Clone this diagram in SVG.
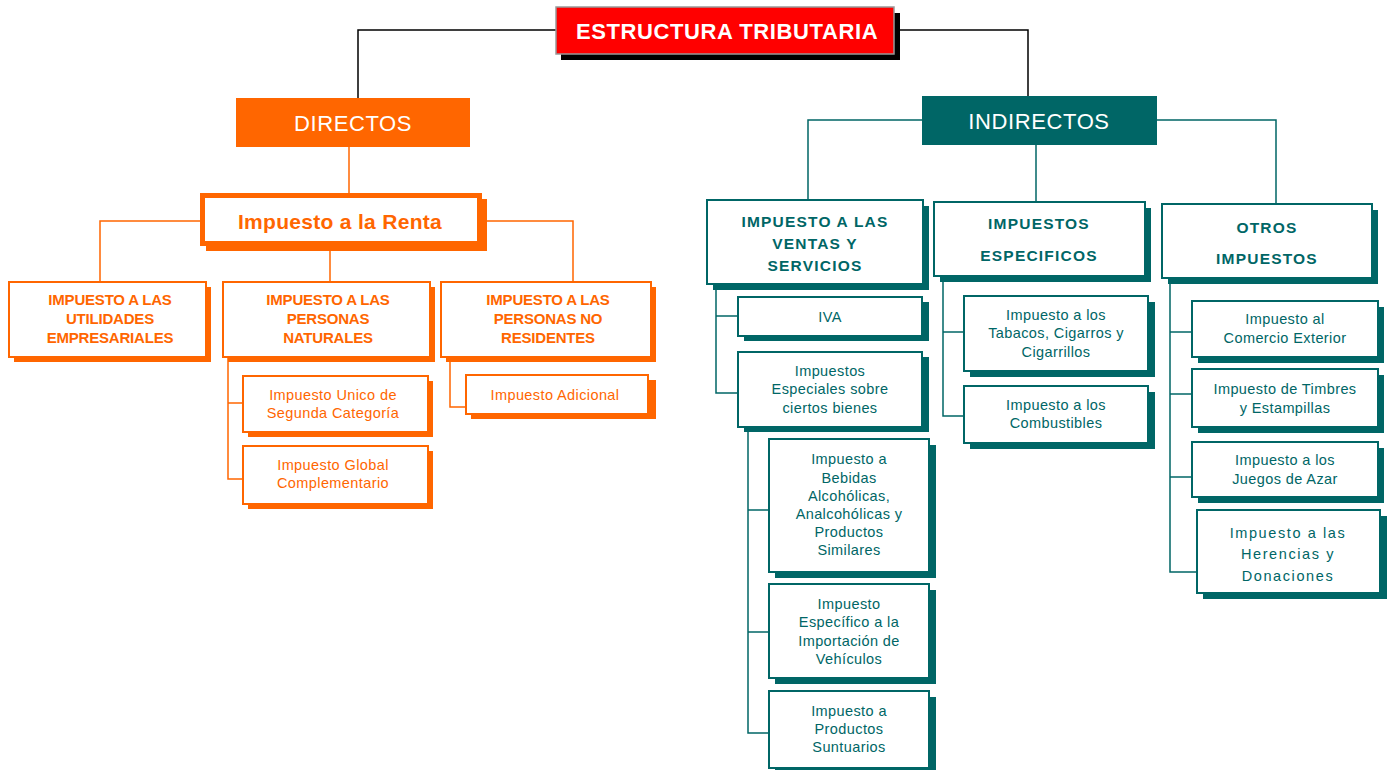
<svg xmlns="http://www.w3.org/2000/svg" width="1390" height="770" viewBox="0 0 1390 770">
  <style>
    text { font-family: "Liberation Sans", Arial, sans-serif; text-anchor: middle; }
    .wire-k { fill: none; stroke: #000; stroke-width: 1.5; }
    .wire-o { fill: none; stroke: #FF6600; stroke-width: 1.5; }
    .wire-t { fill: none; stroke: #006666; stroke-width: 1.5; }
    .sh-o { fill: #FF6600; }
    .sh-t { fill: #006666; }
    .box-o { fill: #fff; stroke: #FF6600; stroke-width: 2; }
    .box-t { fill: #fff; stroke: #006666; stroke-width: 2; }
    .hd-o { fill: #FF6600; font-size: 15px; font-weight: bold; letter-spacing: -0.2px; }
    .hd-t { fill: #006666; font-size: 15.5px; font-weight: bold; letter-spacing: 1.2px; }
    .tx-o { fill: #FF6600; font-size: 14.5px; letter-spacing: 0.4px; }
    .tx-t { fill: #006666; font-size: 14.5px; letter-spacing: 0.4px; }
    .tx-t.wide { letter-spacing: 1.6px; }
    .big { fill: #fff; font-size: 22px; letter-spacing: 0.6px; }
  </style>

  <!-- connectors -->
  <g id="connectors">
    <polyline class="wire-k" points="556,30 358,30 358,98"/>
    <polyline class="wire-k" points="894,30 1028,30 1028,97"/>
    <!-- directos branch -->
    <line class="wire-o" x1="349" y1="147" x2="349" y2="194"/>
    <polyline class="wire-o" points="201,221 100,221 100,283"/>
    <polyline class="wire-o" points="482,221 573,221 573,283"/>
    <line class="wire-o" x1="330" y1="246" x2="330" y2="283"/>
    <polyline class="wire-o" points="228,358 228,479 243,479"/>
    <line class="wire-o" x1="228" y1="403" x2="243" y2="403"/>
    <polyline class="wire-o" points="450,358 450,407 466,407"/>
    <!-- indirectos branch -->
    <polyline class="wire-t" points="922,120 808,120 808,201"/>
    <polyline class="wire-t" points="1157,120 1276,120 1276,204"/>
    <line class="wire-t" x1="1036" y1="145" x2="1036" y2="203"/>
    <polyline class="wire-t" points="716,284 716,393 738,393"/>
    <line class="wire-t" x1="716" y1="316" x2="738" y2="316"/>
    <polyline class="wire-t" points="748,427 748,733 769,733"/>
    <line class="wire-t" x1="748" y1="510" x2="769" y2="510"/>
    <line class="wire-t" x1="748" y1="632" x2="769" y2="632"/>
    <polyline class="wire-t" points="943,276 943,416 964,416"/>
    <line class="wire-t" x1="943" y1="332" x2="964" y2="332"/>
    <polyline class="wire-t" points="1170,278 1170,572 1197,572"/>
    <line class="wire-t" x1="1170" y1="332" x2="1192" y2="332"/>
    <line class="wire-t" x1="1170" y1="394" x2="1192" y2="394"/>
    <line class="wire-t" x1="1170" y1="477" x2="1192" y2="477"/>
  </g>

  <!-- root -->
  <g id="estructura">
    <rect x="561" y="13" width="339" height="47" fill="#000"/>
    <rect x="556" y="7" width="338" height="47" fill="#FF0000" stroke="#999" stroke-width="1.5"/>
    <text x="727" y="39" fill="#fff" font-size="22" font-weight="bold" letter-spacing="0.6">ESTRUCTURA TRIBUTARIA</text>
  </g>

  <!-- directos -->
  <g id="directos">
    <rect x="236" y="98" width="234" height="49" fill="#FF6600"/>
    <text class="big" x="353" y="131">DIRECTOS</text>
  </g>

  <g id="renta">
    <rect x="206" y="199" width="281" height="52" class="sh-o"/>
    <rect x="202.5" y="195.5" width="277" height="48" fill="#fff" stroke="#FF6600" stroke-width="5"/>
    <text x="340" y="229" fill="#FF6600" font-size="21" font-weight="bold" letter-spacing="0.3">Impuesto a la Renta</text>
  </g>

  <g id="utilidades">
    <rect x="14" y="287" width="197" height="75" class="sh-o"/>
    <rect x="9" y="282" width="197" height="75" class="box-o"/>
    <text class="hd-o" x="110" y="305">IMPUESTO A LAS</text>
    <text class="hd-o" x="110" y="324">UTILIDADES</text>
    <text class="hd-o" x="110" y="343">EMPRESARIALES</text>
  </g>

  <g id="naturales">
    <rect x="228" y="287" width="207" height="75" class="sh-o"/>
    <rect x="223" y="282" width="207" height="75" class="box-o"/>
    <text class="hd-o" x="328" y="305">IMPUESTO A LAS</text>
    <text class="hd-o" x="328" y="324">PERSONAS</text>
    <text class="hd-o" x="328" y="343">NATURALES</text>
  </g>

  <g id="no-residentes">
    <rect x="446" y="287" width="210" height="75" class="sh-o"/>
    <rect x="441" y="282" width="210" height="75" class="box-o"/>
    <text class="hd-o" x="548" y="305">IMPUESTO A LAS</text>
    <text class="hd-o" x="548" y="324">PERSONAS NO</text>
    <text class="hd-o" x="548" y="343">RESIDENTES</text>
  </g>

  <g id="unico">
    <rect x="248" y="381" width="185" height="56" class="sh-o"/>
    <rect x="243" y="376" width="185" height="56" class="box-o"/>
    <text class="tx-o" x="333" y="400">Impuesto Unico de</text>
    <text class="tx-o" x="333" y="418">Segunda Categoría</text>
  </g>

  <g id="global">
    <rect x="248" y="451" width="185" height="58" class="sh-o"/>
    <rect x="243" y="446" width="185" height="58" class="box-o"/>
    <text class="tx-o" x="333" y="470">Impuesto Global</text>
    <text class="tx-o" x="333" y="488">Complementario</text>
  </g>

  <g id="adicional">
    <rect x="471" y="380" width="185" height="39" class="sh-o"/>
    <rect x="466" y="375" width="182" height="39" class="box-o"/>
    <text class="tx-o" x="555" y="400">Impuesto Adicional</text>
  </g>

  <!-- indirectos -->
  <g id="indirectos">
    <rect x="922" y="96" width="235" height="49" fill="#006666"/>
    <text class="big" x="1039" y="129">INDIRECTOS</text>
  </g>

  <g id="ventas">
    <rect x="713" y="206" width="216" height="84" class="sh-t"/>
    <rect x="707" y="200" width="216" height="84" class="box-t"/>
    <text class="hd-t" x="815" y="227">IMPUESTO A LAS</text>
    <text class="hd-t" x="815" y="249">VENTAS Y</text>
    <text class="hd-t" x="815" y="271">SERVICIOS</text>
  </g>

  <g id="especificos">
    <rect x="940" y="208" width="211" height="74" class="sh-t"/>
    <rect x="934" y="202" width="211" height="74" class="box-t"/>
    <text class="hd-t" x="1039" y="229">IMPUESTOS</text>
    <text class="hd-t" x="1039" y="261">ESPECIFICOS</text>
  </g>

  <g id="otros">
    <rect x="1168" y="210" width="210" height="74" class="sh-t"/>
    <rect x="1162" y="204" width="210" height="74" class="box-t"/>
    <text class="hd-t" x="1267" y="233">OTROS</text>
    <text class="hd-t" x="1267" y="264">IMPUESTOS</text>
  </g>

  <g id="iva">
    <rect x="744" y="302" width="185" height="39" class="sh-t"/>
    <rect x="738" y="297" width="184" height="39" class="box-t"/>
    <text class="tx-t" x="830" y="322">IVA</text>
  </g>

  <g id="especiales">
    <rect x="744" y="357" width="185" height="75" class="sh-t"/>
    <rect x="738" y="352" width="184" height="75" class="box-t"/>
    <text class="tx-t" x="830" y="376">Impuestos</text>
    <text class="tx-t" x="830" y="394">Especiales sobre</text>
    <text class="tx-t" x="830" y="413">ciertos bienes</text>
  </g>

  <g id="bebidas">
    <rect x="775" y="445" width="161" height="133" class="sh-t"/>
    <rect x="769" y="439" width="160" height="133" class="box-t"/>
    <text class="tx-t" x="849" y="464">Impuesto a</text>
    <text class="tx-t" x="849" y="483">Bebidas</text>
    <text class="tx-t" x="849" y="501">Alcohólicas,</text>
    <text class="tx-t" x="849" y="519">Analcohólicas y</text>
    <text class="tx-t" x="849" y="537">Productos</text>
    <text class="tx-t" x="849" y="555">Similares</text>
  </g>

  <g id="vehiculos">
    <rect x="775" y="590" width="161" height="94" class="sh-t"/>
    <rect x="769" y="584" width="160" height="94" class="box-t"/>
    <text class="tx-t" x="849" y="609">Impuesto</text>
    <text class="tx-t" x="849" y="627">Específico a la</text>
    <text class="tx-t" x="849" y="646">Importación de</text>
    <text class="tx-t" x="849" y="664">Vehículos</text>
  </g>

  <g id="suntuarios">
    <rect x="775" y="697" width="161" height="77" class="sh-t"/>
    <rect x="769" y="691" width="160" height="77" class="box-t"/>
    <text class="tx-t" x="849" y="716">Impuesto a</text>
    <text class="tx-t" x="849" y="734">Productos</text>
    <text class="tx-t" x="849" y="752">Suntuarios</text>
  </g>

  <g id="tabacos">
    <rect x="970" y="302" width="185" height="75" class="sh-t"/>
    <rect x="964" y="296" width="184" height="75" class="box-t"/>
    <text class="tx-t" x="1056" y="320">Impuesto a los</text>
    <text class="tx-t" x="1056" y="338">Tabacos, Cigarros y</text>
    <text class="tx-t" x="1056" y="357">Cigarrillos</text>
  </g>

  <g id="combustibles">
    <rect x="970" y="392" width="185" height="57" class="sh-t"/>
    <rect x="964" y="386" width="184" height="57" class="box-t"/>
    <text class="tx-t" x="1056" y="410">Impuesto a los</text>
    <text class="tx-t" x="1056" y="428">Combustibles</text>
  </g>

  <g id="comercio">
    <rect x="1198" y="307" width="186" height="56" class="sh-t"/>
    <rect x="1192" y="301" width="186" height="56" class="box-t"/>
    <text class="tx-t" x="1285" y="324">Impuesto al</text>
    <text class="tx-t" x="1285" y="343">Comercio Exterior</text>
  </g>

  <g id="timbres">
    <rect x="1198" y="375" width="186" height="58" class="sh-t"/>
    <rect x="1192" y="369" width="186" height="58" class="box-t"/>
    <text class="tx-t" x="1285" y="394">Impuesto de Timbres</text>
    <text class="tx-t" x="1285" y="413">y Estampillas</text>
  </g>

  <g id="azar">
    <rect x="1198" y="448" width="186" height="55" class="sh-t"/>
    <rect x="1192" y="442" width="186" height="55" class="box-t"/>
    <text class="tx-t" x="1285" y="465">Impuesto a los</text>
    <text class="tx-t" x="1285" y="484">Juegos de Azar</text>
  </g>

  <g id="herencias">
    <rect x="1203" y="516" width="184" height="83" class="sh-t"/>
    <rect x="1197" y="510" width="183" height="83" class="box-t"/>
    <text class="tx-t wide" x="1288" y="538">Impuesto a las</text>
    <text class="tx-t wide" x="1288" y="559">Herencias y</text>
    <text class="tx-t wide" x="1288" y="581">Donaciones</text>
  </g>
</svg>
